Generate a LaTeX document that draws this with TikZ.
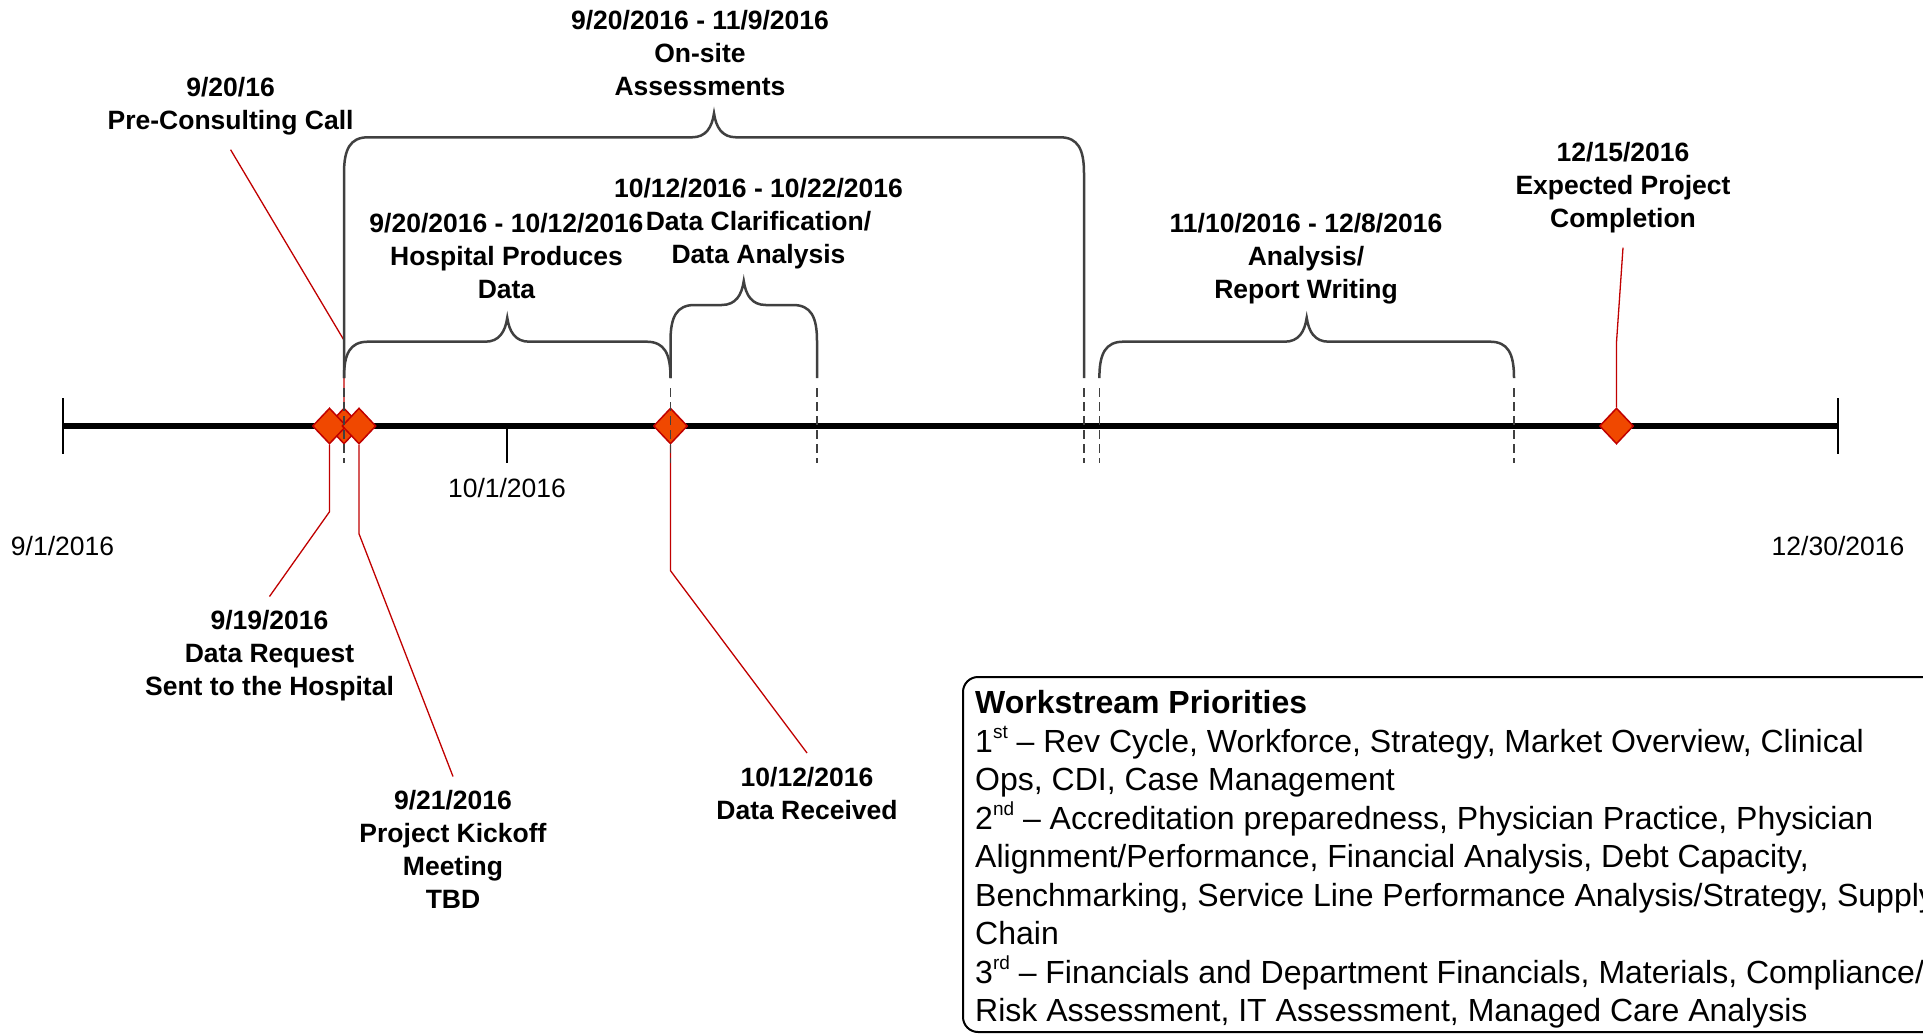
\documentclass[tikz,border=0pt]{standalone}
\usepackage{fontspec}
\setmainfont{Liberation Sans}
\usepackage{tikz}
\usetikzlibrary{
  shapes.geometric  % Diamond milestones
}
\definecolor{msfill}{RGB}{240,72,0}
\definecolor{msline}{RGB}{192,0,0}
\definecolor{bracegray}{RGB}{64,64,64}
\newcommand{\ordsup}[1]{\raisebox{0.42em}{\fontsize{19}{19}\selectfont #1}}

\begin{document}
\begin{tikzpicture}[x=1pt, y=-1pt,
    milestone/.style={diamond, draw=msline, fill=msfill, line width=1.5pt,
      minimum width=34pt, minimum height=36pt, inner sep=0pt},
    lbl/.style={align=center, inner sep=14pt, anchor=north,
      font=\fontsize{26.5}{33}\selectfont\bfseries},
    axlbl/.style={font=\fontsize{26.5}{33}\selectfont},
    leader/.style={draw=msline, line width=1.3pt},
    guide/.style={draw=bracegray, line width=1.8pt, dash pattern=on 9pt off 5pt},
    curly/.style={draw=bracegray, line width=2.5pt}]
                \useasboundingbox (0,0) rectangle (1923,1035);
                \clip (0,0) rectangle (1923,1035);

                % Time axis 9/1 to 12/30 with end ticks and 10/1 tick
                \draw[line width=5.5pt] (62.5,426) -- (1838,426);
                \draw[line width=2pt] (62.5,398) -- (62.5,454);
                \draw[line width=2pt] (1838,398) -- (1838,454);
                \draw[line width=2pt] (507,426) -- (507,463);
                \node[axlbl] (t0901) at (62.5,546) {9/1/2016};
                \node[axlbl] (t1001) at (507,488) {10/1/2016};
                \node[axlbl] (t1230) at (1838,546) {12/30/2016};

                % Milestones on the axis
                \node[milestone] (d920) at (344,426) {};
                \node[milestone] (d919) at (329.5,426) {};
                \node[milestone] (d921) at (359,426) {};
                \node[milestone] (d1012) at (670.5,426) {};
                \node[milestone] (d1215) at (1616.5,426) {};

                % Milestone labels
                \node[lbl] (lpre) at (230.6,63.5) {9/20/16\\Pre-Consulting Call};
                \node[lbl] (l919) at (269.5,596.5) {9/19/2016\\Data Request\\Sent to the Hospital};
                \node[lbl] (l921) at (453,776.5) {9/21/2016\\Project Kickoff\\Meeting\\TBD};
                \node[lbl] (l1012) at (807,753) {10/12/2016\\Data Received};
                \node[lbl] (lend) at (1623,128.5) {12/15/2016\\Expected Project\\Completion};

                % Leaders from milestones to labels
                \draw[leader] (d920.north) -- ++(0,-67) -- (lpre.south);
                \draw[leader] (d919.south) -- ++(0,67) -- (l919.north);
                \draw[leader] (d921.south) -- ++(0,89) -- (l921.north);
                \draw[leader] (d1012.south) -- ++(0,126) -- (l1012.north);
                \draw[leader] (d1215.north) -- ++(0,-65) -- (lend.south);

                % Dashed guides under the brace ends
                \foreach \x in {344,670.5,817,1084,1099.4,1514}
                  \draw[guide] (\x,388) -- (\x,463);

                % Curly braces over the phases (left, right, top)
                \foreach \l/\r/\t in {344/1084/137.3, 344/670.5/341.7, 670.5/817/305, 1099.4/1514/341.7}{
                  \pgfmathsetmacro\m{(\l+\r)/2}
                  \draw[curly] (\l,378) -- (\l,\t+36)
                    .. controls (\l,\t+12) and (\l+6,\t) .. (\l+24,\t) -- (\m-22,\t)
                    .. controls (\m-8,\t) and (\m-2,\t-10) .. (\m,\t-24)
                    .. controls (\m+2,\t-10) and (\m+8,\t) .. (\m+22,\t) -- (\r-24,\t)
                    .. controls (\r-6,\t) and (\r,\t+12) .. (\r,\t+36) -- (\r,378);
                }

                % Phase labels
                \node[lbl] (lonsite) at (700,-3.5) {9/20/2016 - 11/9/2016\\On-site\\Assessments};
                \node[lbl] (lhosp) at (506.5,199.5) {9/20/2016 - 10/12/2016\\Hospital Produces\\Data};
                \node[lbl] (lclar) at (758.5,164.5) {10/12/2016 - 10/22/2016\\Data Clarification/\\Data Analysis};
                \node[lbl] (lrep) at (1306,199.5) {11/10/2016 - 12/8/2016\\Analysis/\\Report Writing};

                % Priorities box
                \draw[line width=2pt, rounded corners=15pt] (963,677) rectangle (1980,1032);
                \node[anchor=north west, inner sep=0pt, align=left,
                  font=\fontsize{32}{38.5}\selectfont] (prio) at (975,690.5)
                  {\textbf{Workstream Priorities}\\
                   1\ordsup{st} -- Rev Cycle, Workforce, Strategy, Market Overview, Clinical\\
                   Ops, CDI, Case Management\\
                   2\ordsup{nd} -- Accreditation preparedness, Physician Practice, Physician\\
                   Alignment/Performance, Financial Analysis, Debt Capacity,\\
                   Benchmarking, Service Line Performance Analysis/Strategy, Supply\\
                   Chain\\
                   3\ordsup{rd} -- Financials and Department Financials, Materials, Compliance/\\
                   Risk Assessment, IT Assessment, Managed Care Analysis};
            \end{tikzpicture}
\end{document}
